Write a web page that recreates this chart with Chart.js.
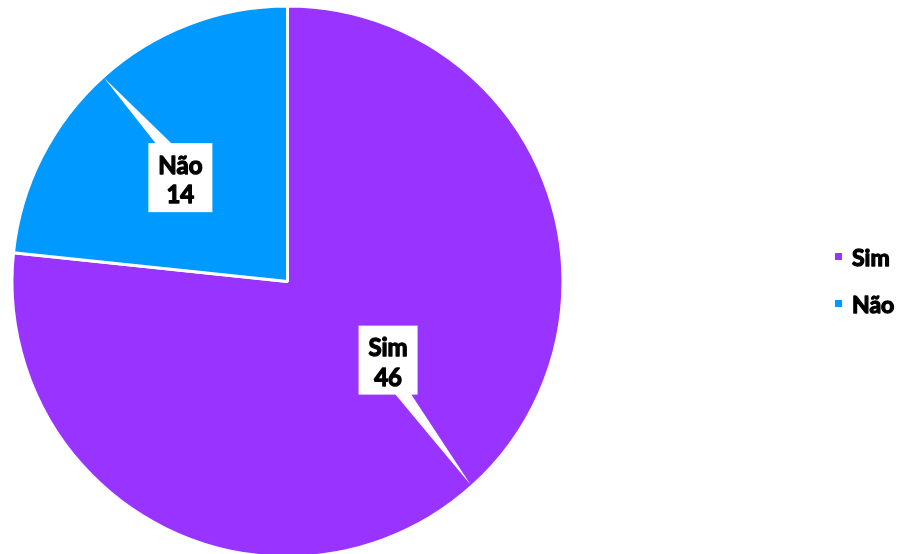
<!DOCTYPE html>
<html>
<head>
<meta charset="utf-8">
<script src="https://cdn.jsdelivr.net/npm/chart.js@4/dist/chart.umd.min.js"></script>
<style>
    html, body { margin: 0; padding: 0; background: #fff; overflow: hidden; }
    #wrap { width: 910px; height: 554px; overflow: hidden; }
</style>
</head>
<body>
<div id="wrap"><canvas id="pieChart" width="910" height="562"></canvas></div>
<script>
let labels = ['Sim', 'Não'];
let values = [46, 14];
let colors = ['#9933FF', '#0099FF'];

// posição das caixas de rótulo, relativa ao centro (fração do raio)
let calloutOffset = [
    { x: 0.367, y: 0.287 },
    { x: -0.391, y: -0.379 }
];

const FONT = '"Lato", "DejaVu Sans", sans-serif';

// texto com traço extra para ficar mais pesado
function heavyText(ctx, text, x, y) {
    ctx.strokeStyle = '#000';
    ctx.lineWidth = 1.3;
    ctx.lineJoin = 'round';
    ctx.strokeText(text, x, y);
    ctx.fillText(text, x, y);
}

// rótulos com caixa branca e ponteiro até a borda da fatia
const callouts = {
    id: 'callouts',
    afterDatasetsDraw(chart) {
        let ctx = chart.ctx;
        let meta = chart.getDatasetMeta(0);
        ctx.save();
        ctx.font = 'bold 24px ' + FONT;
        meta.data.forEach((arc, i) => {
            let p = arc.getProps(['x', 'y', 'startAngle', 'endAngle', 'outerRadius'], true);
            let r = p.outerRadius - 1.5;
            let mid = (p.startAngle + p.endAngle) / 2;
            let tipX = p.x + Math.cos(mid) * r;
            let tipY = p.y + Math.sin(mid) * r;

            let lines = [labels[i], String(values[i])];
            let tw = Math.max(...lines.map(t => ctx.measureText(t).width));
            let w = Math.round(tw + 20);
            let h = 69;
            let cx = p.x + calloutOffset[i].x * r;
            let cy = p.y + calloutOffset[i].y * r;
            let left = cx - w / 2, top = cy - h / 2;

            // base do ponteiro no lado da caixa voltado para a ponta
            let above = tipY < top;
            let edgeY = above ? top : top + h;
            let t = (cy - edgeY) / (cy - tipY);
            let bx = cx + (tipX - cx) * t;
            bx = Math.min(Math.max(bx, left + w * 0.25), left + w * 0.75);

            ctx.fillStyle = '#fff';
            ctx.beginPath();
            ctx.moveTo(bx - 8, edgeY + (above ? 1 : -1));
            ctx.lineTo(tipX, tipY);
            ctx.lineTo(bx + 8, edgeY + (above ? 1 : -1));
            ctx.closePath();
            ctx.fill();
            ctx.fillRect(left, top, w, h);

            ctx.fillStyle = '#000';
            ctx.textAlign = 'center';
            ctx.textBaseline = 'alphabetic';
            heavyText(ctx, lines[0], cx, top + 30.5);
            heavyText(ctx, lines[1], cx, top + 60);
        });
        ctx.restore();
    }
};

// legenda à direita
const sideLegend = {
    id: 'sideLegend',
    afterDraw(chart) {
        let ctx = chart.ctx;
        ctx.save();
        ctx.font = 'bold 23px ' + FONT;
        ctx.textAlign = 'left';
        ctx.textBaseline = 'alphabetic';
        labels.forEach((name, i) => {
            let rowY = 257 + i * 47;
            ctx.fillStyle = colors[i];
            ctx.fillRect(835, rowY - 4, 7, 7);
            ctx.fillStyle = '#000';
            heavyText(ctx, name, 852, rowY + 9);
        });
        ctx.restore();
    }
};

let ctx = document.getElementById('pieChart').getContext('2d');
let chart = new Chart(ctx, {
    type: 'pie',
    data: {
        labels: labels,
        datasets: [{
            data: values,
            backgroundColor: colors,
            borderColor: '#ffffff',
            borderWidth: 3
        }]
    },
    options: {
        responsive: false,
        animation: false,
        layout: {
            padding: { left: 10.5, top: 4.5, right: 345.5, bottom: 3.5 }
        },
        plugins: {
            legend: { display: false },
            tooltip: { enabled: false }
        }
    },
    plugins: [callouts, sideLegend]
});
</script>
</body>
</html>
